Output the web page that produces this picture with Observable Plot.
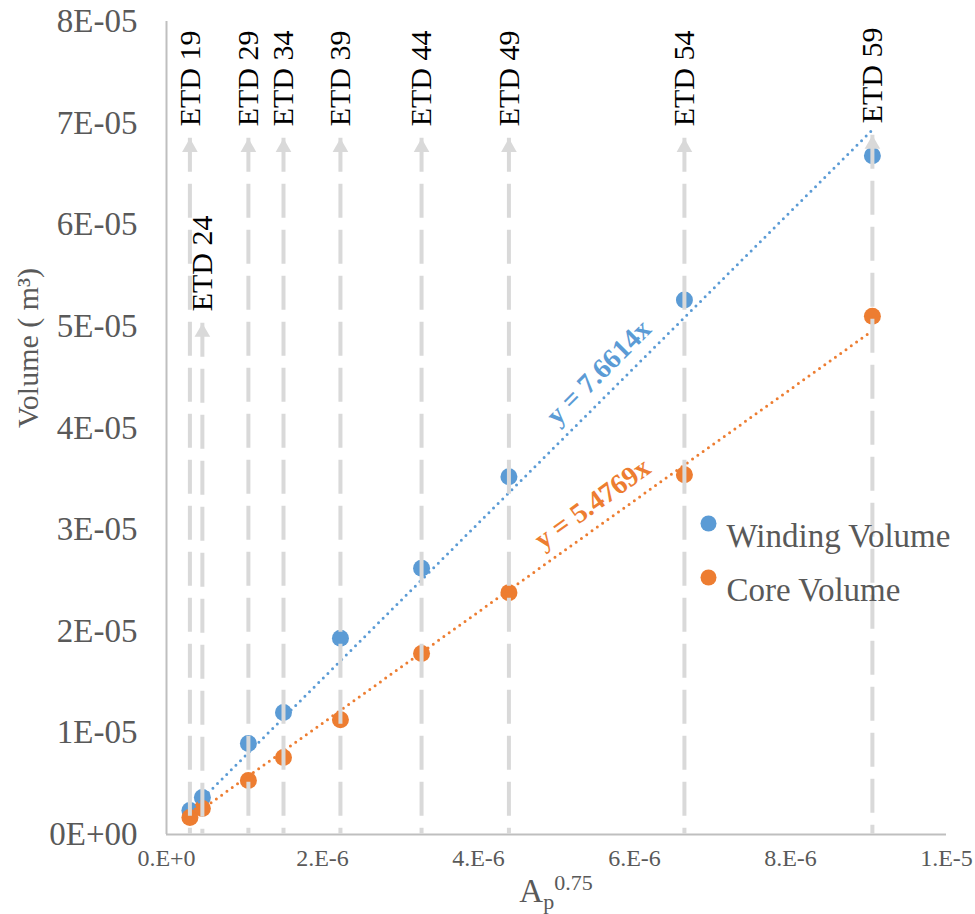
<!DOCTYPE html>
<html><head><meta charset="utf-8">
<script src="https://cdn.jsdelivr.net/npm/d3@7"></script>
<script src="https://cdn.jsdelivr.net/npm/@observablehq/plot@0.6"></script>
<style>
body{margin:0;background:#fff}
#chart svg text{font-family:'Liberation Serif','Times New Roman',serif}
</style>
</head><body><div id="chart"></div>
<script>
// ---- data ----
const cores = ["ETD 19","ETD 24","ETD 29","ETD 34","ETD 39","ETD 44","ETD 49","ETD 54","ETD 59"];
const apPow = [0.30e-6, 0.46e-6, 1.05e-6, 1.50e-6, 2.23e-6, 3.27e-6, 4.39e-6, 6.64e-6, 9.05e-6];
const windingVolume = [2.36e-6, 3.64e-6, 8.96e-6, 1.20e-5, 1.93e-5, 2.62e-5, 3.52e-5, 5.26e-5, 6.68e-5];
const coreVolume = [1.67e-6, 2.56e-6, 5.31e-6, 7.58e-6, 1.13e-5, 1.78e-5, 2.38e-5, 3.54e-5, 5.10e-5];
const arrowTop = [6.85e-5, 5.03e-5, 6.85e-5, 6.85e-5, 6.85e-5, 6.85e-5, 6.85e-5, 6.85e-5, 6.88e-5];
const seriesNames = ["Winding Volume", "Core Volume"];
const slopes = [7.6614, 5.4769];
const trendLabels = ["y = 7.6614x", "y = 5.4769x"];
const xTicks = [0, 2e-6, 4e-6, 6e-6, 8e-6, 1e-5];
const xTickLabels = ["0.E+0", "2.E-6", "4.E-6", "6.E-6", "8.E-6", "1.E-5"];
const yTicks = [0, 1e-5, 2e-5, 3e-5, 4e-5, 5e-5, 6e-5, 7e-5, 8e-5];
const yTickLabels = ["0E+00","1E-05","2E-05","3E-05","4E-05","5E-05","6E-05","7E-05","8E-05"];

// ---- styling / layout ----
const colors = ["#5B9BD5", "#ED7D31"];
const W = 975, H = 914, mL = 166, mR = 29, mT = 21, mB = 80;
const serif = "'Liberation Serif','Times New Roman',serif";
const gridGray = "#D9D9D9", textGray = "#595959";
const trendLabelX = [5.54e-6, 5.46e-6];
const trendLabelDy = [-31, -27];

const idx = cores.map((_, i) => i);
const seriesY = [windingVolume, coreVolume];
const xMin = d3.min(apPow), xMax = d3.max(apPow);
const kx = (W - mL - mR) / 1e-5, ky = (H - mT - mB) / 8e-5;

const marks = [
  Plot.ruleX([0], {stroke: "#BFBFBF", strokeWidth: 2}),
  Plot.ruleY([0], {stroke: "#BFBFBF", strokeWidth: 2})
];
// points
seriesY.forEach((ys, s) => {
  marks.push(Plot.dot(idx, {x: i => apPow[i], y: i => ys[i], r: 8.5, fill: colors[s]}));
});
// trend lines
slopes.forEach((m, s) => {
  marks.push(Plot.line([xMin, xMax].map(x => ({x, y: m * x})), {
    x: "x", y: "y", stroke: colors[s], strokeWidth: 3,
    strokeDasharray: "0,6.5", strokeLinecap: "round"
  }));
});
// ETD marker arrows
marks.push(
  Plot.ruleX(idx, {x: i => apPow[i], y1: i => arrowTop[i], y2: () => 0,
    stroke: gridGray, strokeWidth: 4, strokeDasharray: "34,12"}),
  Plot.dot(idx, {x: i => apPow[i], y: i => arrowTop[i], symbol: "triangle",
    r: 5.8, fill: gridGray, dy: 9}),
  Plot.text(idx, {x: i => apPow[i], y: i => arrowTop[i], text: i => cores[i],
    rotate: -90, textAnchor: "start", lineAnchor: "middle", dy: -12,
    fontSize: 30, fontFamily: serif, fill: "#000"})
);
// trend labels
slopes.forEach((m, s) => {
  const ang = -Math.atan(m * ky / kx) * 180 / Math.PI;
  marks.push(Plot.text([trendLabels[s]], {
    x: () => trendLabelX[s], y: () => m * trendLabelX[s], text: d => d,
    rotate: ang, dy: trendLabelDy[s], fontSize: 28, fontWeight: "bold",
    fontFamily: serif, fill: colors[s]
  }));
});
// legend
seriesNames.forEach((name, s) => {
  marks.push(
    Plot.dot([name], {frameAnchor: "top-left", dx: 542, dy: 502 + s * 54, r: 8, fill: colors[s]}),
    Plot.text([name], {frameAnchor: "top-left", dx: 560, dy: 502 + s * 54, text: d => d,
      textAnchor: "start", fontSize: 33, fontFamily: serif, fill: textGray})
  );
});
// tick labels
marks.push(
  Plot.text(xTicks, {x: d => d, frameAnchor: "bottom", dy: 31, text: (d, i) => xTickLabels[i],
    fontSize: 24, fontFamily: serif, fill: textGray}),
  Plot.text(yTicks, {y: d => d, frameAnchor: "left", dx: -29, textAnchor: "end",
    text: (d, i) => yTickLabels[i], fontSize: 33, fontFamily: serif, fill: textGray}),
  Plot.text(["Volume ( m³)"], {frameAnchor: "left", dx: -138, rotate: -90, text: d => d,
    fontSize: 30, fontFamily: serif, fill: textGray})
);

const chart = Plot.plot({
  width: W, height: H,
  marginLeft: mL, marginRight: mR, marginTop: mT, marginBottom: mB,
  style: {fontFamily: serif, background: "#fff", color: textGray, overflow: "visible"},
  x: {domain: [0, 1e-5], axis: null},
  y: {domain: [0, 8e-5], axis: null},
  marks
});
document.getElementById("chart").appendChild(chart);

// x-axis title with subscript / superscript
const svg = d3.select(chart);
const t = svg.append("text")
  .attr("x", mL + (W - mL - mR) / 2)
  .attr("y", 902)
  .attr("text-anchor", "middle")
  .attr("fill", textGray)
  .attr("font-family", serif);
t.append("tspan").attr("font-size", 33).text("A");
t.append("tspan").attr("font-size", 22).attr("dy", 7).text("p");
t.append("tspan").attr("font-size", 22).attr("dy", -19).text("0.75");
</script>
</body></html>
